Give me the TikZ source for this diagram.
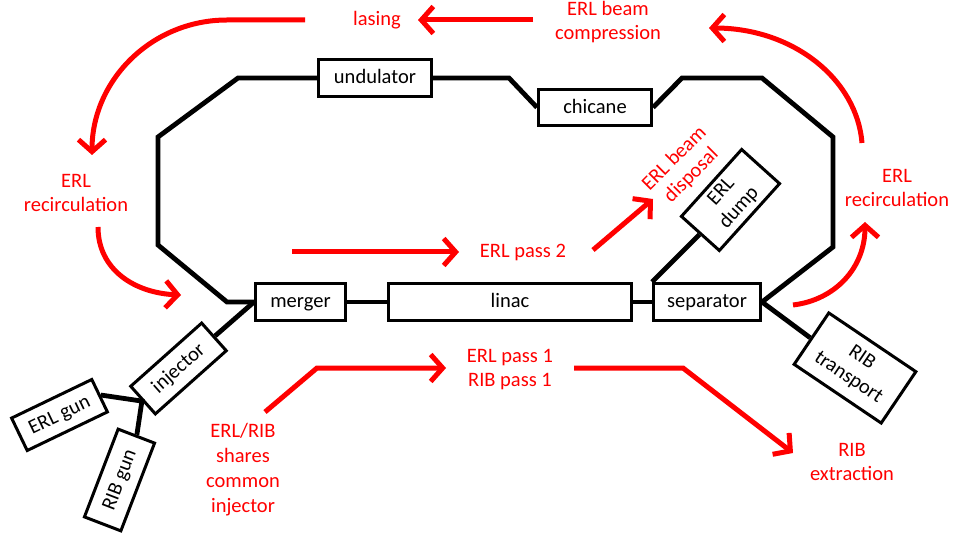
\documentclass[tikz,border=0pt]{standalone}
\usepackage{fontspec}
\setmainfont{Carlito}
\usetikzlibrary{arrows.meta}
\definecolor{beamred}{RGB}{255,0,0}
\begin{document}
\begin{tikzpicture}[x=1pt,y=-1pt,
  every node/.style={font=\fontsize{20.5}{24}\selectfont},
  comp/.style={draw=black,line width=3pt,fill=white,inner sep=0pt,align=center},
  oneline/.style={text height=15pt,text depth=3.4pt},
  beam/.style={line width=4.8pt,line join=miter},
  redtext/.style={text=beamred,align=center,inner sep=0pt},
  redarrow/.style={draw=beamred,line width=5pt,-{Straight Barb[length=12pt,width=27pt,line width=5pt]}},
  redline/.style={draw=beamred,line width=5pt}]
\useasboundingbox (0,0) rectangle (953,537);
% components
\node[comp,oneline,minimum width=113pt,minimum height=37pt] (und) at (375,78) {undulator};
\node[comp,oneline,minimum width=113pt,minimum height=36pt] (chic) at (595,107.5) {chicane};
\node[comp,oneline,minimum width=90pt,minimum height=37pt] (merg) at (300.5,302) {merger};
\node[comp,oneline,minimum width=243pt,minimum height=37pt] (linac) at (510,302) {linac};
\node[comp,oneline,minimum width=107pt,minimum height=37pt] (sep) at (707,302) {separator};
\node[comp,oneline,rotate=41.7,minimum width=95pt,minimum height=37pt] (inj) at (178.5,368.5) {injector};
\node[comp,oneline,rotate=25.7,minimum width=89pt,minimum height=36pt] (erlgun) at (59.5,415) {ERL gun};
\node[comp,oneline,rotate=69,minimum width=94pt,minimum height=39pt] (ribgun) at (119.5,480) {RIB gun};
\node[comp,rotate=48,minimum width=90pt,minimum height=51pt] (dump) at (730.5,200) {ERL\\dump};
\node[comp,rotate=-34,minimum width=105pt,minimum height=62pt] (transp) at (855,368) {RIB\\transport};
% ring corners
\coordinate (c1) at (227,302);
\coordinate (c2) at (158,245);
\coordinate (c3) at (158,137);
\coordinate (c4) at (238,78);
\coordinate (c5) at (509,78);
\coordinate (c6) at (682,78);
\coordinate (c7) at (762,78);
\coordinate (c8) at (833,137);
\coordinate (c9) at (833,247);
% beamlines
\draw[beam] (merg.west) -- (c1) -- (c2) -- (c3) -- (c4) -- (und.west);
\draw[beam] (und.east) -- (c5) -- (chic.west);
\draw[beam] (chic.east) -- (c6) -- (c7) -- (c8) -- (c9) -- (sep.east);
\draw[beam] (merg.east) -- (linac.west);
\draw[beam] (linac.east) -- (sep.west);
\draw[beam] (sep.north west) -- (dump.west);
\draw[beam] (sep.east) -- (transp.west);
\draw[beam] (inj.east) -- (merg.west);
\draw[beam] (erlgun.east) -- (inj.west) -- (ribgun.east);
% red labels
\node[redtext] (lasing) at (377,20) {lasing};
\node[redtext] (compr) at (608,22) {ERL beam\\compression};
\node[redtext] (recl) at (76,193) {ERL\\recirculation};
\node[redtext] (recr) at (897,188) {ERL\\recirculation};
\node[redtext] (pass2) at (523,253) {ERL pass 2};
\node[redtext,rotate=45] (disp) at (683,167) {ERL beam\\disposal};
\node[redtext] (pass1) at (510,370) {ERL pass 1\\RIB pass 1};
\node[redtext,font=\fontsize{20.5}{25}\selectfont] (shares) at (243,470) {ERL/RIB\\shares\\common\\injector};
\node[redtext] (extr) at (852,462) {RIB\\extraction};
% red arrow points
\coordinate (a1s) at (305,20);
\coordinate (a1m) at (227,20);
\coordinate (a1e) at (92,155);
\coordinate (a2s) at (98,227);
\coordinate (a2e) at (181,295);
\coordinate (a3s) at (533,20);
\coordinate (a3e) at (418,20);
\coordinate (a4s) at (862,143);
\coordinate (a4e) at (709,28);
\coordinate (a5s) at (793,305);
\coordinate (a5e) at (865,222);
\coordinate (a6s) at (292,252);
\coordinate (a6e) at (459,252);
\coordinate (a7s) at (593,250);
\coordinate (a7e) at (653,199);
\coordinate (a8s) at (265,412);
\coordinate (a8m) at (317,368);
\coordinate (a8e) at (446,368);
\coordinate (a9s) at (574,368);
\coordinate (a9m) at (683,368);
\coordinate (a9e) at (793,453);
% red arrows
\draw[redarrow] (a1s) -- (a1m) .. controls (152,20) and (92,80) .. (a1e);
\draw[redarrow] (a2s) .. controls (98,270) and (135,293) .. (a2e);
\draw[redarrow] (a3s) -- (a3e);
\draw[redarrow] (a4s) .. controls (857,80) and (794,28) .. (a4e);
\draw[redarrow] (a5s) .. controls (835,300) and (865,268) .. (a5e);
\draw[redarrow] (a6s) -- (a6e);
\draw[redarrow] (a7s) -- (a7e);
\draw[redarrow] (a8s) -- (a8m) -- (a8e);
\draw[redarrow] (a9s) -- (a9m) -- (a9e);
\end{tikzpicture}
\end{document}
